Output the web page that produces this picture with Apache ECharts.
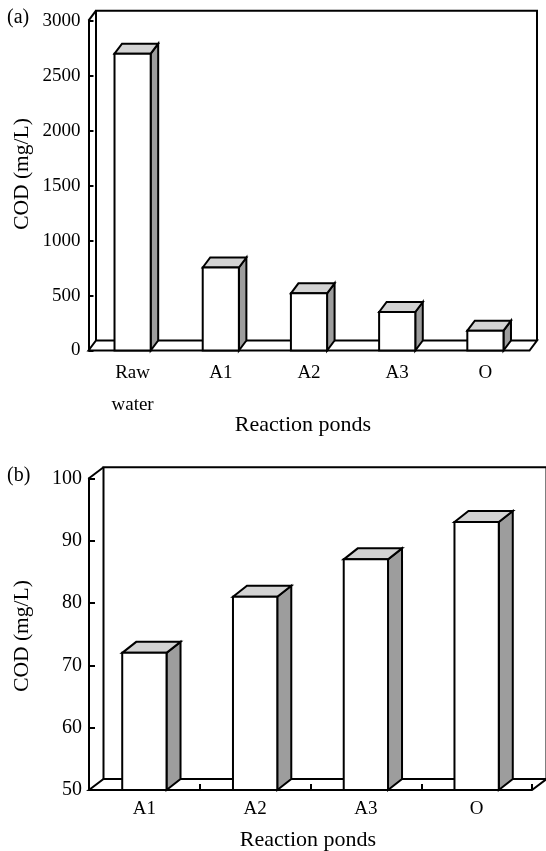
<!DOCTYPE html>
<html>
<head>
  <meta charset="utf-8">
  <script src="https://cdn.jsdelivr.net/npm/echarts/dist/echarts.min.js"></script>
  <style>
    html, body { margin: 0; padding: 0; background: #fff; }
    #main { width: 546px; height: 851px; }
  </style>
</head>
<body>
  <div id="main"></div>
  <script type="text/javascript">
    // panel (a)
    const pondsA = ['Raw\nwater', 'A1', 'A2', 'A3', 'O'];
    const codA = [2700, 755, 520, 350, 180];
    const minA = 0, maxA = 3000, stepA = 500;
    // panel (b)
    const pondsB = ['A1', 'A2', 'A3', 'O'];
    const codB = [72, 81, 87, 93];
    const minB = 50, maxB = 100, stepB = 10;

    const FONT = '"Liberation Serif", "Times New Roman", serif';
    const LW = 2;
    const SIDE = '#9d9d9d', TOP = '#d3d3d3';

    // back wall + floor, drawn once per grid
    function frameItem(dx, dy) {
      return function (params, api) {
        const cs = params.coordSys;
        const x0 = cs.x, x1 = cs.x + cs.width, y0 = cs.y, y1 = cs.y + cs.height;
        const st = { fill: 'none', stroke: '#000', lineWidth: LW };
        return {
          type: 'group',
          children: [
            { type: 'polyline', shape: { points: [[x0 + dx, y1 + dy], [x0 + dx, y0 + dy], [x1 + dx, y0 + dy], [x1 + dx, y1 + dy]] }, style: st },
            { type: 'polygon', shape: { points: [[x0, y1], [x1, y1], [x1 + dx, y1 + dy], [x0 + dx, y1 + dy]] }, style: st },
            { type: 'line', shape: { x1: x0, y1: y0, x2: x0 + dx, y2: y0 + dy }, style: st }
          ]
        };
      };
    }

    // pseudo-3D bar: side, top, front
    function barItem(dx, dy, frac) {
      return function (params, api) {
        const cs = params.coordSys;
        const p = api.coord([api.value(0), api.value(1)]);
        const w = api.size([1, 0])[0] * frac;
        const xl = p[0] - w / 2, xr = p[0] + w / 2, yt = p[1], yb = cs.y + cs.height;
        const st = (f) => ({ fill: f, stroke: '#000', lineWidth: LW, lineJoin: 'miter' });
        return {
          type: 'group',
          children: [
            { type: 'polygon', shape: { points: [[xr, yt], [xr + dx, yt + dy], [xr + dx, yb + dy], [xr, yb]] }, style: st(SIDE) },
            { type: 'polygon', shape: { points: [[xl, yt], [xl + dx, yt + dy], [xr + dx, yt + dy], [xr, yt]] }, style: st(TOP) },
            { type: 'rect', shape: { x: xl, y: yt, width: w, height: yb - yt }, style: st('#fff') }
          ]
        };
      };
    }

    function txt(text, x, y, size, rot, align) {
      return {
        type: 'text', x: x, y: y, rotation: rot || 0, silent: true,
        style: { text: text, font: size + 'px ' + FONT, fill: '#000', textAlign: align || 'center', textVerticalAlign: 'middle' }
      };
    }

    const chart = echarts.init(document.getElementById('main'));
    const plain = (v) => String(v);
    const tickStyle = { color: '#000', width: LW };

    chart.setOption({
      animation: false,
      grid: [
        { left: 88.5, top: 20.7, width: 441, height: 329.8 },
        { left: 89, top: 478.3, width: 443, height: 311.7 }
      ],
      xAxis: [
        {
          gridIndex: 0, type: 'category', data: pondsA,
          axisLine: { show: false }, axisTick: { show: false },
          axisLabel: { color: '#000', fontFamily: FONT, fontSize: 19, margin: 6.5, lineHeight: 32 }
        },
        {
          gridIndex: 1, type: 'category', data: pondsB,
          axisLine: { show: false },
          axisTick: { show: true, inside: true, length: 6, lineStyle: tickStyle },
          axisLabel: { color: '#000', fontFamily: FONT, fontSize: 19, margin: 9, lineHeight: 20 }
        }
      ],
      yAxis: [
        {
          gridIndex: 0, type: 'value', min: minA, max: maxA, interval: stepA,
          axisLine: { show: true, lineStyle: tickStyle },
          axisTick: { show: true, inside: true, length: 5, lineStyle: tickStyle },
          splitLine: { show: false },
          axisLabel: { color: '#000', fontFamily: FONT, fontSize: 19, margin: 8, formatter: plain }
        },
        {
          gridIndex: 1, type: 'value', min: minB, max: maxB, interval: stepB,
          axisLine: { show: true, lineStyle: tickStyle },
          axisTick: { show: true, inside: true, length: 6, lineStyle: tickStyle },
          splitLine: { show: false },
          axisLabel: { color: '#000', fontFamily: FONT, fontSize: 20, margin: 7, formatter: plain }
        }
      ],
      series: [
        { type: 'custom', xAxisIndex: 0, yAxisIndex: 0, z: 1, silent: true, clip: false,
          data: [[0, minA]], renderItem: frameItem(7.5, -10) },
        { type: 'custom', xAxisIndex: 0, yAxisIndex: 0, z: 2, silent: true, clip: false,
          data: codA.map((v, i) => [i, v]), renderItem: barItem(7.5, -10, 0.41) },
        { type: 'custom', xAxisIndex: 1, yAxisIndex: 1, z: 1, silent: true, clip: false,
          data: [[0, minB]], renderItem: frameItem(14.5, -11) },
        { type: 'custom', xAxisIndex: 1, yAxisIndex: 1, z: 2, silent: true, clip: false,
          data: codB.map((v, i) => [i, v]), renderItem: barItem(14, -11, 0.40) }
      ],
      graphic: [
        txt('(a)', 7, 18, 20, 0, 'left'),
        txt('(b)', 7, 476, 20, 0, 'left'),
        txt('COD (mg/L)', 22, 174, 21.5, Math.PI / 2),
        txt('COD (mg/L)', 22, 636, 21.5, Math.PI / 2),
        txt('Reaction ponds', 303, 425, 22),
        txt('Reaction ponds', 308, 840, 22)
      ]
    });
  </script>
</body>
</html>
